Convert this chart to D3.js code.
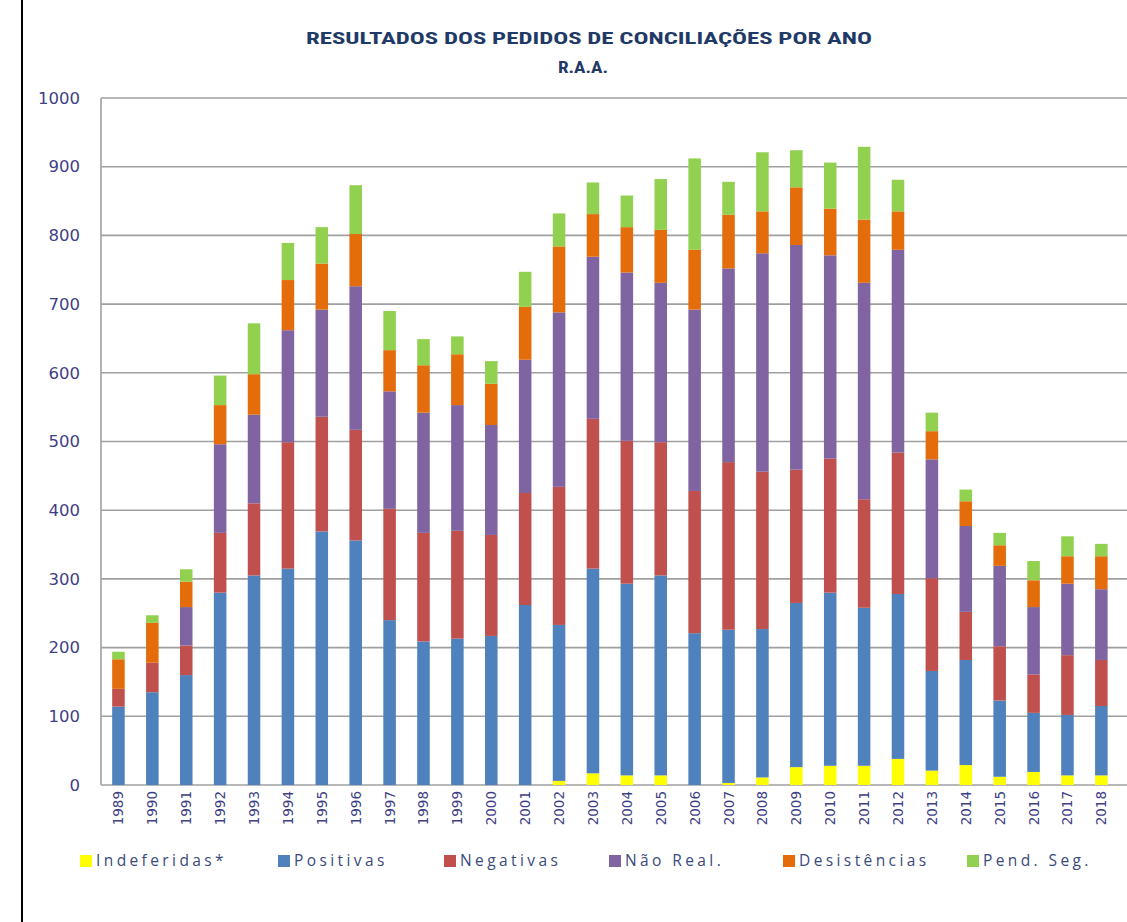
<!DOCTYPE html>
<html><head><meta charset="utf-8">
<script src="https://cdn.jsdelivr.net/npm/d3@7"></script>
<style>body{margin:0;background:#fff}svg{display:block}</style>
</head><body>
<svg id="c" width="1127" height="922"></svg>
<script>
const years = ["1989","1990","1991","1992","1993","1994","1995","1996","1997","1998","1999","2000","2001","2002","2003","2004","2005","2006","2007","2008","2009","2010","2011","2012","2013","2014","2015","2016","2017","2018"];
const indeferidas = [0,0,0,0,0,0,0,0,0,0,0,0,0,6,17,14,14,0,3,11,26,28,28,38,21,29,12,19,14,14];
const positivas   = [114,135,160,280,305,315,369,356,240,209,213,217,262,227,298,279,291,221,223,216,239,252,230,240,145,153,111,86,88,101];
const negativas   = [26,43,43,87,105,184,167,161,162,158,157,147,163,201,218,208,194,207,244,229,194,195,158,206,135,70,79,56,87,67];
const naoReal     = [0,0,56,129,129,163,156,209,171,175,183,160,194,254,236,245,232,264,282,318,327,296,315,295,173,125,117,98,104,103];
const desistencias= [43,58,37,57,59,73,67,76,60,69,74,60,77,96,62,66,77,87,78,61,84,68,92,56,41,36,30,39,40,48];
const pendSeg     = [11,11,18,43,74,54,53,71,57,38,26,33,51,48,46,46,74,133,48,86,54,67,106,46,27,17,18,28,29,18];
const seriesNames = ["Indeferidas*","Positivas","Negativas","Não Real.","Desistências","Pend. Seg."];
const seriesColors = ["#FFFF00","#4F81BD","#C0504D","#8064A2","#E46C0A","#92D050"];
const yTicks = [0,100,200,300,400,500,600,700,800,900,1000];
const title1 = "RESULTADOS  DOS PEDIDOS DE CONCILIAÇÕES POR ANO";
const title2 = "R.A.A.";

const seriesData = [indeferidas,positivas,negativas,naoReal,desistencias,pendSeg];
const keys = seriesNames;
const rows = years.map((y,i)=>{const o={year:y}; keys.forEach((k,j)=>o[k]=seriesData[j][i]); return o;});
const stack = d3.stack().keys(keys)(rows);

const svg = d3.select("#c");
const x = d3.scaleBand().domain(years).range([101.5,1118.3]).paddingInner(0.63).paddingOuter(0.315);
const y = d3.scaleLinear().domain([0,1000]).range([785,98]);
const color = d3.scaleOrdinal().domain(keys).range(seriesColors);

// left border line
svg.append("line").attr("x1",22).attr("x2",22).attr("y1",0).attr("y2",922).attr("stroke","#000").attr("stroke-width",2);

// title
const tfont = "'Liberation Sans Narrow','Roboto Condensed','Liberation Sans',Arial,sans-serif";
svg.append("text").attr("x",589).attr("y",44).attr("text-anchor","middle")
  .attr("font-family",tfont).attr("font-weight","bold").attr("font-size",16).attr("fill","#1F3A66")
  .attr("textLength",566).attr("lengthAdjust","spacingAndGlyphs").text(title1);
svg.append("text").attr("x",583).attr("y",73).attr("text-anchor","middle")
  .attr("font-family",tfont).attr("font-weight","bold").attr("font-size",16).attr("fill","#1F3A66")
  .attr("textLength",50).attr("lengthAdjust","spacingAndGlyphs").text(title2);

// gridlines
svg.append("g").selectAll("line").data(yTicks).join("line")
  .attr("x1",101).attr("x2",1127).attr("y1",d=>y(d)).attr("y2",d=>y(d))
  .attr("stroke","#A0A0A0").attr("stroke-width",1.6);
// y axis line
svg.append("line").attr("x1",101).attr("x2",101).attr("y1",y(1000)).attr("y2",y(0)).attr("stroke","#A0A0A0").attr("stroke-width",1.6);

const lfont = "'DejaVu Sans',Verdana,sans-serif";
// y tick labels
svg.append("g").selectAll("text").data(yTicks).join("text")
  .attr("x",80).attr("y",d=>y(d)).attr("dy","0.35em").attr("text-anchor","end")
  .attr("font-family",lfont).attr("font-size",16.5).attr("fill","#3F3F86").text(d=>d);

// bars
svg.append("g").selectAll("g").data(stack).join("g").attr("fill",d=>color(d.key))
  .selectAll("rect").data(d=>d).join("rect")
  .attr("x",d=>x(d.data.year)).attr("width",x.bandwidth())
  .attr("y",d=>y(d[1])).attr("height",d=>y(d[0])-y(d[1]));

// x labels
svg.append("g").selectAll("text").data(years).join("text")
  .attr("transform",d=>`translate(${x(d)+x.bandwidth()/2+5},791) rotate(-90)`)
  .attr("text-anchor","end").attr("font-family",lfont).attr("font-size",13.5).attr("fill","#3F3F86").text(d=>d);

// legend
const legX = [80,278,444,609,783,967];
const lg = svg.append("g").selectAll("g").data(keys).join("g").attr("transform",(d,i)=>`translate(${legX[i]},855)`);
lg.append("rect").attr("width",12).attr("height",12).attr("fill",d=>color(d));
lg.append("text").attr("x",16).attr("y",6).attr("dy","0.35em")
  .attr("font-family","'Open Sans',sans-serif").attr("font-size",15.5).attr("letter-spacing",3.4).attr("fill","#3A4A7A").text(d=>d);
</script>
</body></html>
